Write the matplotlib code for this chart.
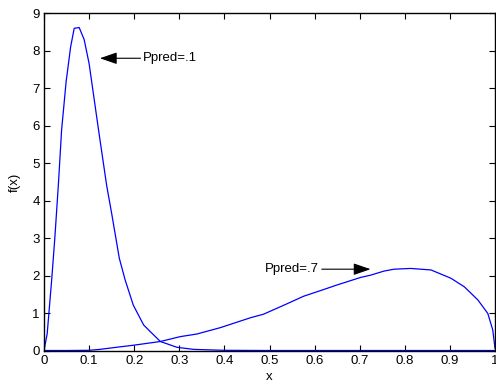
import matplotlib
matplotlib.use("Agg")
import matplotlib.pyplot as plt

plt.rcParams['font.family'] = ['Liberation Sans', 'DejaVu Sans']

# Ppred=.1 curve
x_p1 = [0.0, 0.007, 0.017, 0.024, 0.032, 0.039, 0.049, 0.059, 0.067, 0.078, 0.089,
        0.100, 0.121, 0.139, 0.150, 0.167, 0.180, 0.198, 0.221, 0.236, 0.258,
        0.295, 0.332, 0.40, 0.50, 0.60, 0.70, 0.80, 0.90, 1.0]
y_p1 = [0.0, 0.44, 1.88, 3.0, 4.45, 5.88, 7.17, 8.1, 8.6, 8.62, 8.3,
        7.66, 5.88, 4.4, 3.66, 2.46, 1.88, 1.21, 0.68, 0.5, 0.24,
        0.085, 0.03, 0.005, 0.0, 0.0, 0.0, 0.0, 0.0, 0.0]

# Ppred=.7 curve
x_p7 = [0.0, 0.05, 0.10, 0.124, 0.16, 0.198, 0.258, 0.302, 0.339, 0.391, 0.458,
        0.487, 0.532, 0.576, 0.606, 0.650, 0.702, 0.724, 0.754, 0.776, 0.813,
        0.858, 0.902, 0.932, 0.962, 0.984, 0.995, 1.0]
y_p7 = [0.0, 0.0, 0.005, 0.03, 0.085, 0.14, 0.24, 0.37, 0.44, 0.61, 0.875,
        0.97, 1.21, 1.45, 1.57, 1.75, 1.95, 2.01, 2.12, 2.17, 2.19,
        2.15, 1.93, 1.70, 1.35, 0.99, 0.55, 0.06]

x_ticks = [0, 0.1, 0.2, 0.3, 0.4, 0.5, 0.6, 0.7, 0.8, 0.9, 1]
x_ticklabels = ['0', '0.1', '0.2', '0.3', '0.4', '0.5', '0.6', '0.7', '0.8', '0.9', '1']
y_ticks = [0, 1, 2, 3, 4, 5, 6, 7, 8, 9]

FS = 9.5

fig = plt.figure(figsize=(4.96, 3.85), dpi=100)
ax = fig.add_axes([44/496, 1 - 350.5/385, 451/496, (350.5 - 13.3)/385])

ax.plot(x_p1, y_p1, color=(0, 0, 1), lw=0.9)
ax.plot(x_p7, y_p7, color=(0, 0, 1), lw=0.9)

ax.set_xlim(0, 1)
ax.set_ylim(0, 9)
ax.set_xticks(x_ticks)
ax.set_xticklabels(x_ticklabels)
ax.set_yticks(y_ticks)
ax.tick_params(direction='in', top=True, right=True, labelsize=FS, length=4,
               width=0.8, pad=3)
for s in ax.spines.values():
    s.set_linewidth(1.0)

ax.set_xlabel('x', fontsize=FS, labelpad=3)
ax.set_ylabel('f(x)', fontsize=FS, labelpad=8)

arrow = dict(arrowstyle='-|>,head_length=1.1,head_width=0.38', color='k', lw=0.8,
             shrinkA=0, shrinkB=0)
ax.annotate('Ppred=.1', xy=(0.124, 7.8), xytext=(0.22, 7.8), fontsize=FS,
            va='center', ha='left', arrowprops=arrow)
ax.annotate('Ppred=.7', xy=(0.724, 2.17), xytext=(0.49, 2.17), fontsize=FS,
            va='center', ha='left', arrowprops=arrow)

fig.savefig('out.png', dpi=100)
